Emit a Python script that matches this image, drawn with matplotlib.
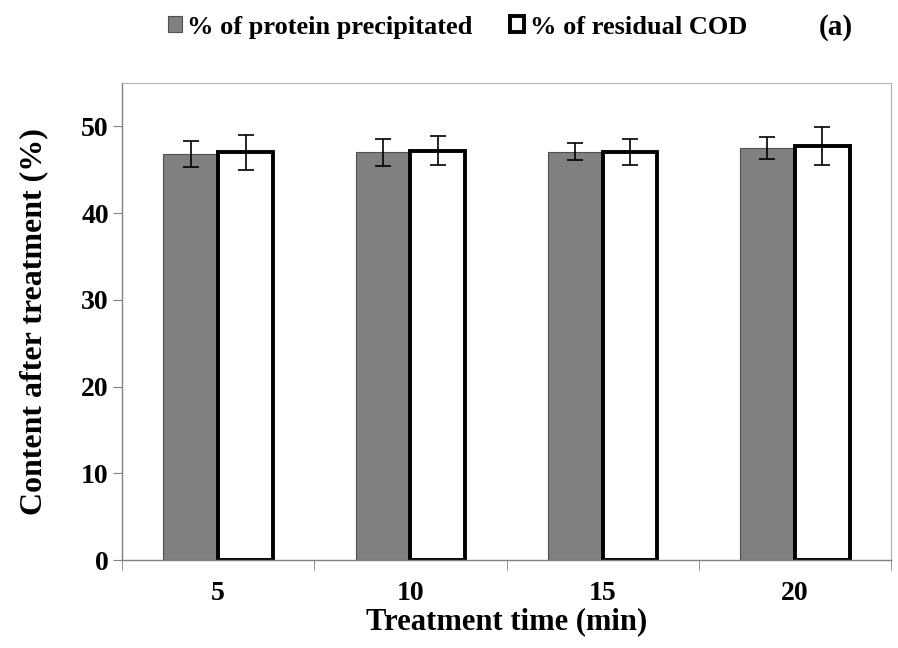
import numpy as np
import matplotlib.pyplot as plt

times = ['5', '10', '15', '20']
protein = [46.8, 47.0, 47.1, 47.5]
protein_err = [1.5, 1.6, 1.0, 1.3]
cod = [47.0, 47.2, 47.0, 47.7]
cod_err = [2.0, 1.7, 1.5, 2.2]

plt.rcParams['font.family'] = ['Liberation Serif', 'DejaVu Serif']
plt.rcParams['font.weight'] = 'bold'

fig = plt.figure(figsize=(8.98, 6.48), dpi=100)
ax = fig.add_axes([0.1359, 0.1358, 0.8563, 0.7361])

x = np.arange(len(times))
w = 0.285
ax.bar(x - w / 2, protein, w, color='#808080', edgecolor='#505050', linewidth=0.8,
       yerr=protein_err, error_kw=dict(ecolor='black', elinewidth=1.2, capsize=6, capthick=1.2),
       label='% of protein precipitated')
ax.bar(x + w / 2, cod, w, color='white', edgecolor='black', linewidth=2.8,
       yerr=cod_err, error_kw=dict(ecolor='black', elinewidth=1.2, capsize=6, capthick=1.2),
       label='% of residual COD')

ax.set_xlim(-0.5, 3.5)
ax.set_ylim(0, 55)
ax.set_yticks([0, 10, 20, 30, 40, 50])
ax.set_xticks(x)
ax.set_xticklabels(times)
ax.set_xticks(np.arange(-0.5, 4, 1), minor=True)
ax.tick_params(axis='x', which='major', length=0, pad=15, labelsize=20)
ax.tick_params(axis='x', which='minor', length=7, color='#808080', direction='out')
ax.tick_params(axis='y', length=6.5, color='#808080', labelsize=20, pad=3)

for s in ['top', 'right']:
    ax.spines[s].set_color('#b0b0b0')
    ax.spines[s].set_linewidth(0.8)
for s in ['left', 'bottom']:
    ax.spines[s].set_color('#808080')
    ax.spines[s].set_linewidth(1.0)

ax.set_xlabel('Treatment time (min)', fontsize=22, fontweight='bold', labelpad=1)
ax.set_ylabel('Content after treatment (%)', fontsize=23, fontweight='bold', labelpad=24)

leg = fig.legend(loc='center left', bbox_to_anchor=(0.172, 0.958), ncol=2, frameon=False,
                 handlelength=0.55, handleheight=0.55, handletextpad=0.2,
                 columnspacing=1.4, borderpad=0, prop={'weight': 'bold', 'size': 19})
fig.text(0.931, 0.958, '(a)', fontsize=21, fontweight='bold', ha='center', va='center')

fig.savefig('out.png', dpi=100)
